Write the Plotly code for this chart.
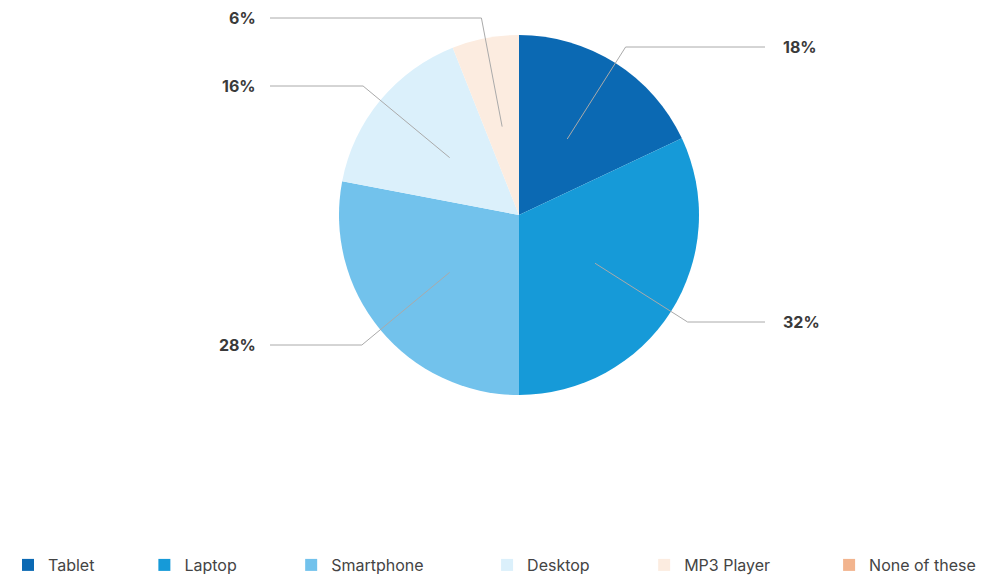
import math
import plotly.graph_objects as go

# the page puts the figure 8px in from the top-left corner
OFF = 8
W, H = 1007 - OFF, 582 - OFF

labels = ['Tablet', 'Laptop', 'Smartphone', 'Desktop', 'MP3 Player', 'None of these']
values = [18, 32, 28, 16, 6, 0]
colors = ['#0b69b3', '#169ad8', '#72c2ec', '#dbf0fb', '#fcece0', '#f2b48e']

# where the outside % labels sit (screen pixels) and which side they hang off
label_pos = [(781, 47, 'left'), (781, 322, 'left'), (258, 345, 'right'),
             (258, 86, 'right'), (258, 18, 'right')]

# trailing padding so the legend entries spread out like the original
legend_pad = [10, 11, 13, 11, 12, 0]

cx, cy, R = 519, 215, 180


def px(x, y):
    return (x - OFF) / W, 1 - (y - OFF) / H


names = [l + '\u00a0' * n for l, n in zip(labels, legend_pad)]

fig = go.Figure()
fig.add_trace(go.Pie(
    labels=names, values=values, sort=False, direction='clockwise', rotation=0,
    marker=dict(colors=colors, line=dict(width=0)),
    textinfo='none', hovertemplate='%{label}: %{percent}<extra></extra>',
    domain=dict(x=[px(cx - R, 0)[0], px(cx + R, 0)[0]],
                y=[px(0, cy + R)[1], px(0, cy - R)[1]]),
))

total = sum(values)
cum = 0
shapes = []
annotations = []
for i, v in enumerate(values):
    if v == 0:
        continue
    th = math.radians((cum + v / 2) / total * 360)
    cum += v
    lx, ly, side = label_pos[i]
    tipx, tipy = cx + 0.5 * R * math.sin(th), cy - 0.5 * R * math.cos(th)
    t = (ly - cy) / (-math.cos(th))
    ex, ey = cx + t * math.sin(th), ly
    endx = lx - 16 if side == 'left' else lx + 12
    pts = [px(tipx, tipy), px(ex, ey), px(endx, ey)]
    path = 'M {},{} L {},{} L {},{}'.format(*[c for p in pts for c in p])
    shapes.append(dict(type='path', path=path, xref='paper', yref='paper',
                       line=dict(color='#aaaaaa', width=1)))
    ax_, ay_ = px(lx, ly)
    annotations.append(dict(text='<b>%d%%</b>' % round(v / total * 100), x=ax_, y=ay_,
                            xref='paper', yref='paper', showarrow=False,
                            xanchor=side, yanchor='middle',
                            font=dict(family='Inter', size=16, color='#3a3a3a')))

fig.update_layout(
    width=W, height=H,
    margin=dict(l=0, r=0, t=0, b=0),
    paper_bgcolor='white', plot_bgcolor='white',
    shapes=shapes, annotations=annotations,
    showlegend=True,
    legend=dict(orientation='h', x=0, xanchor='left', y=0, yanchor='bottom',
                font=dict(family='Inter', size=16, color='#444444'),
                traceorder='normal'),
)

fig.write_html("out.html")
